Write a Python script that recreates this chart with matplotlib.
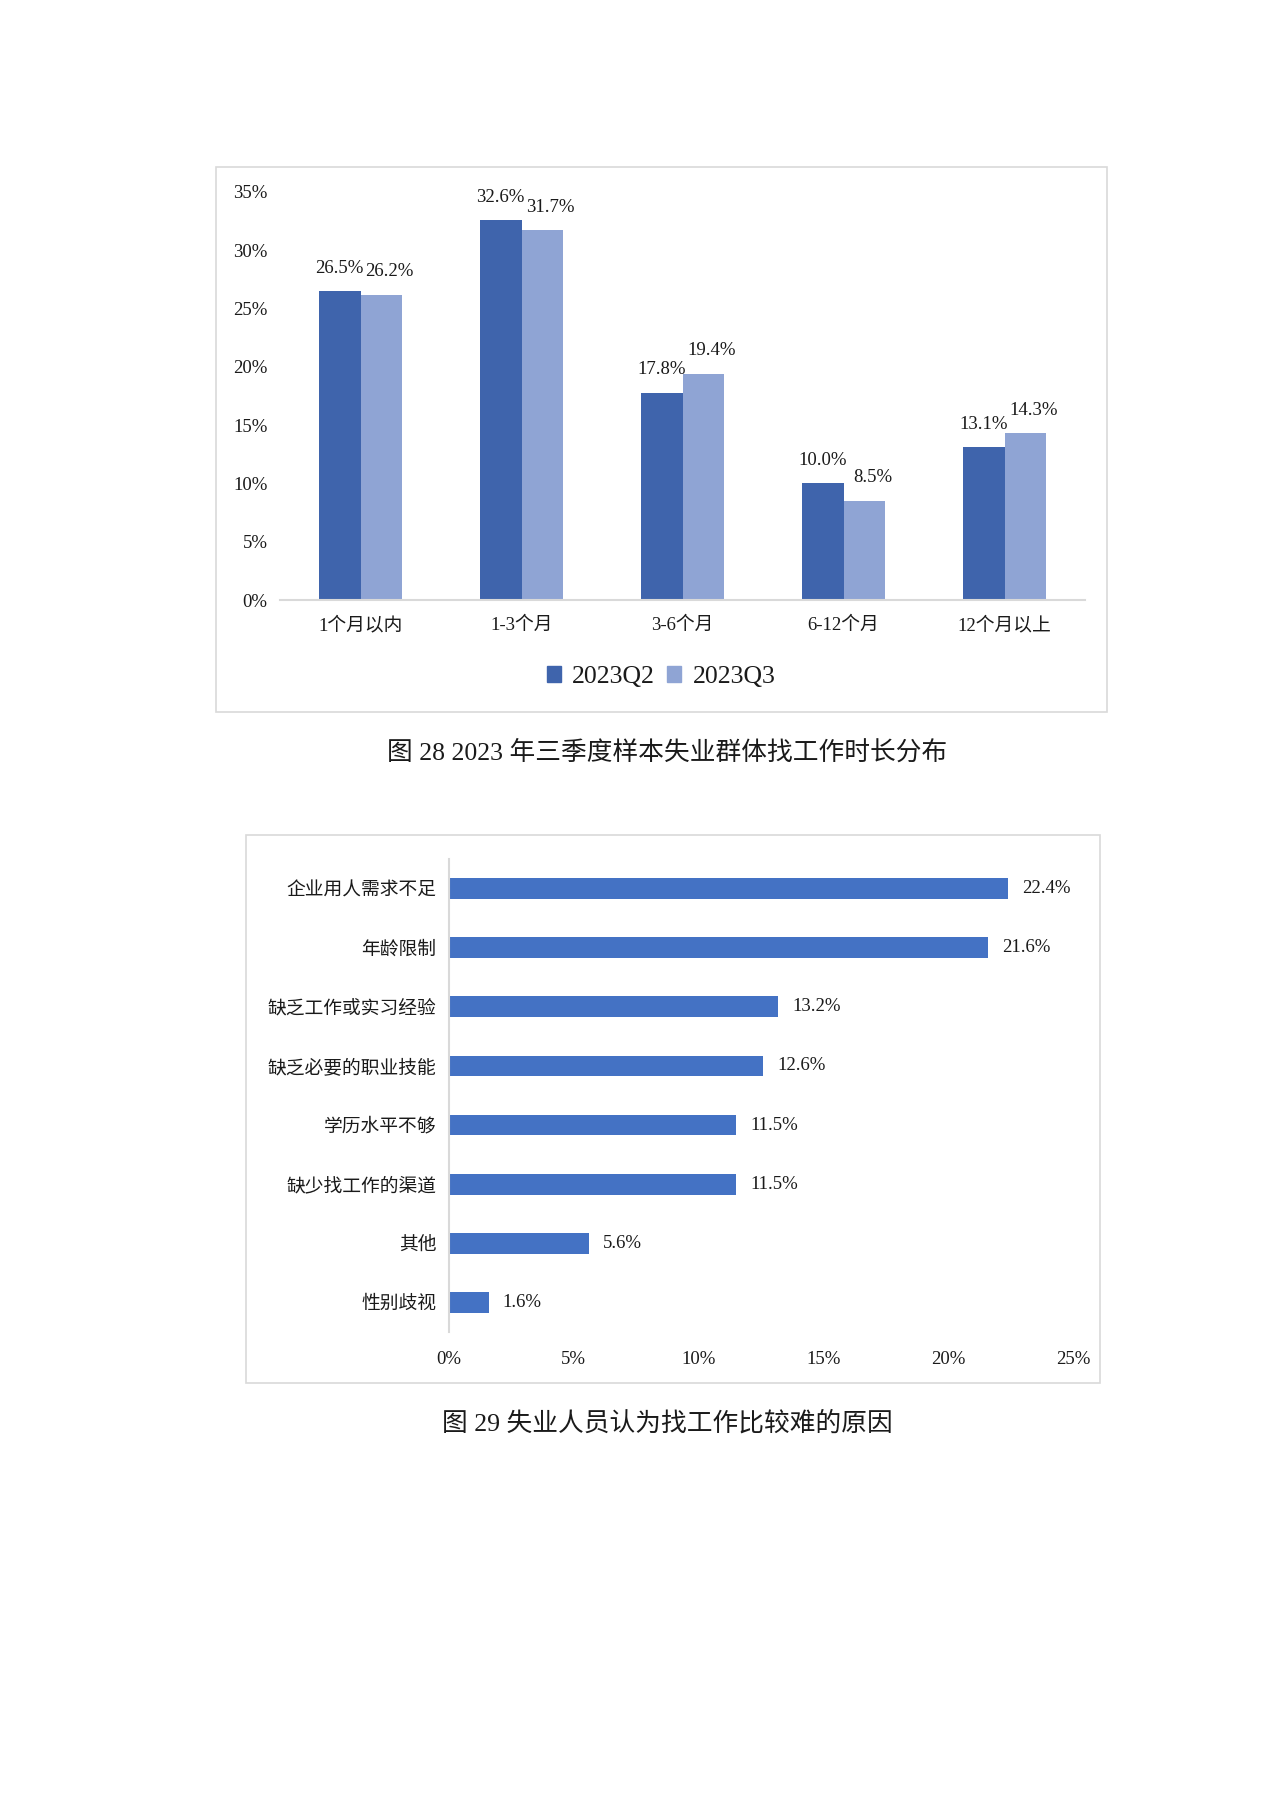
import matplotlib
matplotlib.use('Agg')
import matplotlib.pyplot as plt
import numpy as np
from matplotlib.patches import Rectangle, Patch

plt.rcParams['font.family'] = ['Liberation Serif', 'Noto Sans CJK SC']

# chart 28 data
durations = ['1个月以内', '1-3个月', '3-6个月', '6-12个月', '12个月以上']
q2 = [26.5, 32.6, 17.8, 10.0, 13.1]
q3 = [26.2, 31.7, 19.4, 8.5, 14.3]
series_names = ['2023Q2', '2023Q3']
y_ticks = [0, 5, 10, 15, 20, 25, 30, 35]

# chart 29 data
reasons = ['企业用人需求不足', '年龄限制', '缺乏工作或实习经验', '缺乏必要的职业技能',
           '学历水平不够', '缺少找工作的渠道', '其他', '性别歧视']
shares = [22.4, 21.6, 13.2, 12.6, 11.5, 11.5, 5.6, 1.6]
x_ticks = [0, 5, 10, 15, 20, 25]

caption1 = '图 28 2023 年三季度样本失业群体找工作时长分布'
caption2 = '图 29 失业人员认为找工作比较难的原因'

c_q2 = '#3F64AC'
c_q3 = '#8FA4D4'
c_bar = '#4472C4'
c_grey = '#D9D9D9'
txt = '#1a1a1a'

W, H = 1280, 1810
fig = plt.figure(figsize=(W / 100, H / 100), dpi=100)


def fx(px):
    return px / W


def fy(py):
    return 1 - py / H


# ---- chart 28 ----
fig.add_artist(Rectangle((fx(216), fy(712)), fx(1107) - fx(216), fy(167) - fy(712),
                         transform=fig.transFigure, fill=False, edgecolor=c_grey, lw=1.2))
ax1 = fig.add_axes([fx(280), fy(600), fx(1085) - fx(280), fy(192) - fy(600)])
x = np.arange(len(durations))
w = 0.26
b1 = ax1.bar(x - w / 2, q2, w, color=c_q2, label=series_names[0])
b2 = ax1.bar(x + w / 2, q3, w, color=c_q3, label=series_names[1])
for rect, v in zip(b1, q2):
    ax1.annotate(f'{v:.1f}%', (rect.get_x() + rect.get_width() / 2, v),
                 xytext=(0, 16.5), textcoords='offset points', ha='center', va='center',
                 fontsize=13.5, color=txt)
for rect, v in zip(b2, q3):
    ax1.annotate(f'{v:.1f}%', (rect.get_x() + rect.get_width() / 2, v),
                 xytext=(6, 16.5), textcoords='offset points', ha='center', va='center',
                 fontsize=13.5, color=txt)
ax1.set_xlim(-0.5, len(durations) - 0.5)
ax1.set_ylim(0, 35)
ax1.set_yticks(y_ticks)
ax1.set_yticklabels([f'{t}%' for t in y_ticks])
ax1.set_xticks(x)
ax1.set_xticklabels(durations, va='center_baseline')
ax1.tick_params(axis='both', length=0, labelsize=13.5, colors=txt)
ax1.tick_params(axis='y', pad=9)
ax1.tick_params(axis='x', pad=17)
for s in ['top', 'right', 'left']:
    ax1.spines[s].set_visible(False)
ax1.spines['bottom'].set_color(c_grey)
ax1.spines['bottom'].set_linewidth(1.5)

handles = [Patch(color=c_q2), Patch(color=c_q3)]
fig.legend(handles, series_names, loc='center', bbox_to_anchor=(fx(661), fy(677)),
           ncol=2, frameon=False, fontsize=18.5, handlelength=0.55, handleheight=0.55,
           handletextpad=0.45, columnspacing=0.45, labelcolor=txt)

fig.text(fx(667), fy(752), caption1, ha='center', va='center', fontsize=18.5, color=txt)

# ---- chart 29 ----
fig.add_artist(Rectangle((fx(246), fy(1383)), fx(1100) - fx(246), fy(835) - fy(1383),
                         transform=fig.transFigure, fill=False, edgecolor=c_grey, lw=1.2))
ax2 = fig.add_axes([fx(449), fy(1332), fx(1073) - fx(449), fy(859) - fy(1332)])
y = np.arange(len(reasons))
bars = ax2.barh(y, shares, 0.35, color=c_bar)
for rect, v in zip(bars, shares):
    ax2.annotate(f'{v:.1f}%', (v, rect.get_y() + rect.get_height() / 2),
                 xytext=(10, 0), textcoords='offset points', ha='left', va='center',
                 fontsize=13.5, color=txt)
ax2.set_ylim(len(reasons) - 0.5, -0.5)
ax2.set_xlim(0, 25)
ax2.set_yticks(y)
ax2.set_yticklabels(reasons)
ax2.set_xticks(x_ticks)
ax2.set_xticklabels([f'{t}%' for t in x_ticks])
ax2.tick_params(axis='both', length=0, labelsize=13.5, colors=txt)
ax2.tick_params(axis='y', pad=9)
ax2.tick_params(axis='x', pad=14)
for s in ['top', 'right', 'bottom']:
    ax2.spines[s].set_visible(False)
ax2.spines['left'].set_color(c_grey)
ax2.spines['left'].set_linewidth(1.5)

fig.text(fx(667), fy(1423), caption2, ha='center', va='center', fontsize=18.5, color=txt)

fig.savefig('out.png', dpi=100, facecolor='white')
